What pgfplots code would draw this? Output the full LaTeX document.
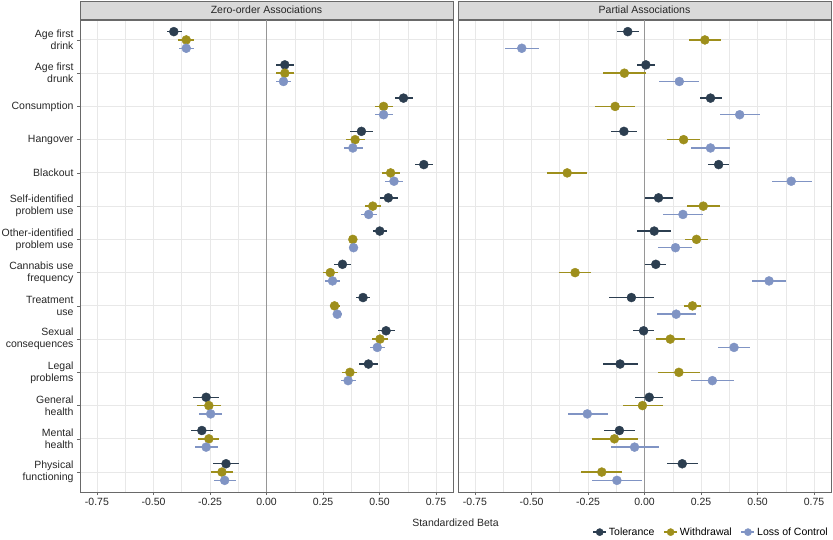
\documentclass[border=0pt]{standalone}
\usepackage{pgfplots}
\usepackage{pgfplotstable}
\pgfplotsset{compat=1.18}
\usepackage{fontspec}
\setmainfont{Liberation Sans}
\definecolor{tol}{RGB}{44,62,80}
\definecolor{wd}{RGB}{158,143,28}
\definecolor{loc}{RGB}{128,148,196}
\definecolor{gridc}{RGB}{232,232,232}
\definecolor{framec}{RGB}{105,105,105}
\definecolor{stripc}{RGB}{217,217,217}
\definecolor{zeroc}{RGB}{150,150,150}

% columns: r = row, est = estimate, lo/hi = interval
\pgfplotstableread{
r est lo hi
1 -0.410 -0.440 -0.375
2 0.081 0.044 0.120
3 0.606 0.568 0.649
4 0.420 0.370 0.470
5 0.696 0.655 0.737
6 0.539 0.500 0.580
7 0.501 0.470 0.532
8 0.336 0.300 0.373
9 0.427 0.397 0.459
10 0.529 0.494 0.567
11 0.451 0.407 0.495
12 -0.267 -0.323 -0.211
13 -0.286 -0.335 -0.235
14 -0.179 -0.235 -0.121
}\LT
\pgfplotstableread{
r est lo hi
1 -0.355 -0.390 -0.320
2 0.081 0.040 0.120
3 0.518 0.479 0.561
4 0.392 0.350 0.435
5 0.549 0.510 0.590
6 0.470 0.436 0.505
7 0.382 0.364 0.400
8 0.282 0.248 0.316
9 0.301 0.281 0.323
10 0.502 0.468 0.539
11 0.369 0.335 0.402
12 -0.255 -0.308 -0.203
13 -0.255 -0.302 -0.208
14 -0.197 -0.247 -0.147
}\LW
\pgfplotstableread{
r est lo hi
1 -0.355 -0.385 -0.320
2 0.075 0.043 0.110
3 0.518 0.482 0.558
4 0.382 0.344 0.425
5 0.564 0.526 0.605
6 0.452 0.418 0.487
7 0.385 0.367 0.406
8 0.292 0.260 0.326
9 0.313 0.294 0.336
10 0.490 0.458 0.524
11 0.361 0.329 0.397
12 -0.247 -0.297 -0.196
13 -0.267 -0.317 -0.216
14 -0.185 -0.232 -0.135
}\LL
\pgfplotstableread{
r est lo hi
1 -0.074 -0.122 -0.025
2 0.006 -0.031 0.046
3 0.292 0.244 0.343
4 -0.091 -0.149 -0.031
5 0.328 0.282 0.374
6 0.062 0.004 0.124
7 0.043 -0.031 0.118
8 0.050 0.004 0.093
9 -0.058 -0.158 0.044
10 -0.004 -0.053 0.043
11 -0.108 -0.183 -0.029
12 0.021 -0.041 0.083
13 -0.111 -0.181 -0.043
14 0.167 0.099 0.236
}\RT
\pgfplotstableread{
r est lo hi
1 0.267 0.198 0.340
2 -0.089 -0.184 0.008
3 -0.130 -0.217 -0.043
4 0.173 0.099 0.247
5 -0.342 -0.430 -0.255
6 0.260 0.188 0.332
7 0.230 0.179 0.283
8 -0.307 -0.378 -0.235
9 0.212 0.176 0.250
10 0.114 0.050 0.180
11 0.152 0.060 0.245
12 -0.009 -0.096 0.080
13 -0.133 -0.234 -0.027
14 -0.189 -0.280 -0.099
}\RW
\pgfplotstableread{
r est lo hi
1 -0.543 -0.617 -0.465
2 0.154 0.066 0.241
3 0.421 0.332 0.510
4 0.292 0.207 0.377
5 0.649 0.563 0.740
6 0.170 0.081 0.259
7 0.137 0.061 0.212
8 0.551 0.477 0.625
9 0.140 0.056 0.226
10 0.396 0.323 0.468
11 0.300 0.205 0.394
12 -0.253 -0.340 -0.162
13 -0.044 -0.150 0.066
14 -0.122 -0.234 -0.009
}\RL

\pgfplotsset{
  panel/.style={
    scale only axis, width=373pt, height=472pt,
    xmin=-0.825, xmax=0.825, ymin=0.4, ymax=14.6, y dir=reverse,
    xtick={-0.75,-0.5,-0.25,0,0.25,0.5,0.75}, minor x tick num=1,
    ytick={1,...,14},
    xtick pos=bottom, ytick pos=left,
    grid=both,
    major grid style={gridc, line width=0.9pt},
    minor grid style={gridc, line width=0.5pt},
    axis line style={framec, line width=0.8pt},
    tick align=outside, major tick length=3pt, minor tick length=0pt,
    tick style={framec, line width=0.6pt},
    /pgf/number format/assume math mode=true,
    xticklabel style={/pgf/number format/.cd, fixed, fixed zerofill, precision=2, /tikz/.cd},
    ticklabel style={font=\fontsize{10.5}{12}\selectfont, text=black!85},
    execute at begin axis={\draw[zeroc, line width=1.4pt] (axis cs:0,0.4) -- (axis cs:0,14.6);},
  },
  ser/.style={only marks, mark=*, mark size=4.5pt, color=#1,
    mark options={draw=#1, fill=#1},
    error bars/x dir=both, error bars/x explicit, error bars/error mark=none,
    error bars/error bar style={line width=1.4pt, color=#1},
    legend image code/.code={\draw[#1, line width=1.4pt] (0pt,0pt) -- (13pt,0pt); \fill[#1] (6.5pt,0pt) circle (3.6pt);}},
}

\begin{document}
\begin{tikzpicture}
\useasboundingbox (0pt,0pt) rectangle (833pt,539pt);

\begin{axis}[panel, at={(80pt,47pt)}, anchor=south west,
  yticklabels={{Age first\\drink},{Age first\\drunk},Consumption,Hangover,Blackout,{Self-identified\\problem use},{Other-identified\\problem use},{Cannabis use\\frequency},{Treatment\\use},{Sexual\\consequences},{Legal\\problems},{General\\health},{Mental\\health},{Physical\\functioning}},
  yticklabel style={align=right, font=\fontsize{10.5}{12}\selectfont},
]
\addplot[ser=tol] table[x=est, y expr=\thisrow{r}-0.25, x error plus expr=\thisrow{hi}-\thisrow{est}, x error minus expr=\thisrow{est}-\thisrow{lo}] {\LT};
\addplot[ser=wd] table[x=est, y expr=\thisrow{r}, x error plus expr=\thisrow{hi}-\thisrow{est}, x error minus expr=\thisrow{est}-\thisrow{lo}] {\LW};
\addplot[ser=loc] table[x=est, y expr=\thisrow{r}+0.25, x error plus expr=\thisrow{hi}-\thisrow{est}, x error minus expr=\thisrow{est}-\thisrow{lo}] {\LL};
\end{axis}

\begin{axis}[panel, at={(458pt,47pt)}, anchor=south west,
  yticklabels={}, ytick style={draw=none},
  legend style={at={(1,-0.085)}, anchor=east, legend columns=3, draw=none, fill=none,
    font=\fontsize{10.5}{12}\selectfont, inner sep=1pt,
    /tikz/every even column/.append style={column sep=7pt}},
  legend cell align=left,
]
\addplot[ser=tol] table[x=est, y expr=\thisrow{r}-0.25, x error plus expr=\thisrow{hi}-\thisrow{est}, x error minus expr=\thisrow{est}-\thisrow{lo}] {\RT};
\addlegendentry{Tolerance}
\addplot[ser=wd] table[x=est, y expr=\thisrow{r}, x error plus expr=\thisrow{hi}-\thisrow{est}, x error minus expr=\thisrow{est}-\thisrow{lo}] {\RW};
\addlegendentry{Withdrawal}
\addplot[ser=loc] table[x=est, y expr=\thisrow{r}+0.25, x error plus expr=\thisrow{hi}-\thisrow{est}, x error minus expr=\thisrow{est}-\thisrow{lo}] {\RL};
\addlegendentry{Loss of Control}
\end{axis}

\draw[framec, line width=0.8pt, fill=stripc] (80pt,520pt) rectangle (453pt,538pt);
\node[font=\fontsize{10.5}{12}\selectfont, text=black!85] at (266.5pt,529pt) {Zero-order Associations};
\draw[framec, line width=0.8pt, fill=stripc] (458pt,520pt) rectangle (831pt,538pt);
\node[font=\fontsize{10.5}{12}\selectfont, text=black!85] at (644.5pt,529pt) {Partial Associations};
\node[font=\fontsize{10.5}{12}\selectfont, text=black!85] at (455.5pt,16pt) {Standardized Beta};
\end{tikzpicture}
\end{document}
